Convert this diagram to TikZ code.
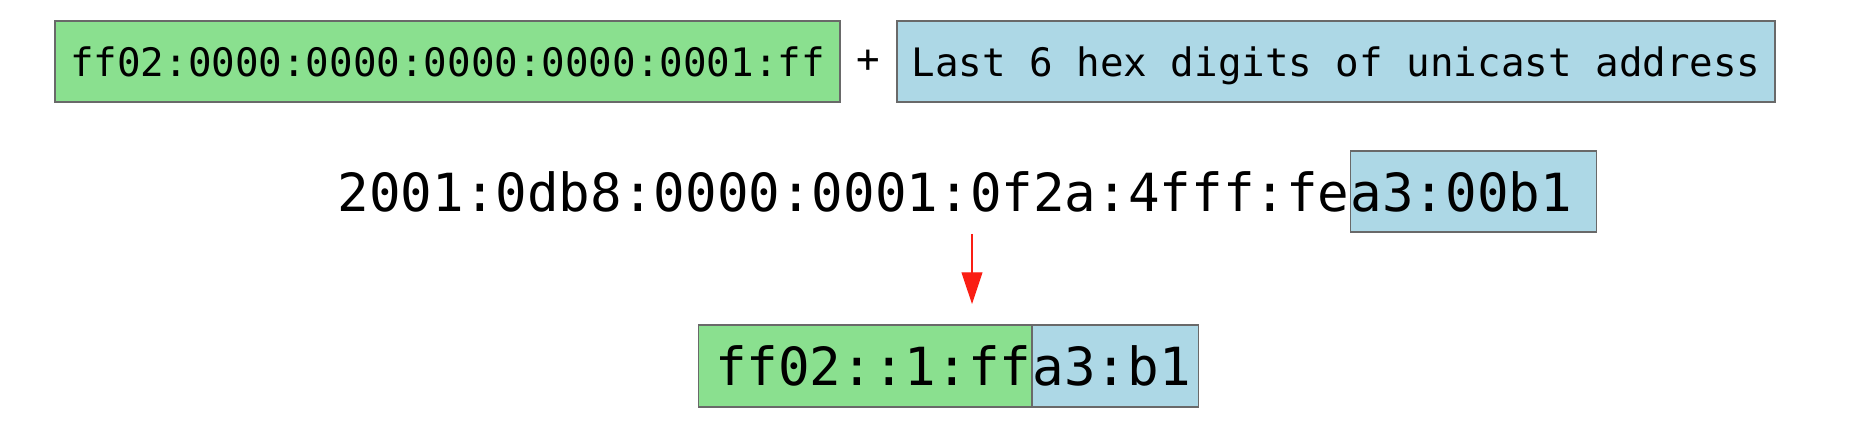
\documentclass[tikz,border=0pt]{standalone}
\usepackage{fontspec}
\setmonofont{DejaVu Sans Mono}
\usepackage{tikz}
\usetikzlibrary{arrows.meta}

\definecolor{prefixgreen}{RGB}{138,224,143}
\definecolor{suffixblue}{RGB}{173,216,230}
\definecolor{boxline}{RGB}{105,105,105}
\definecolor{arrowred}{RGB}{250,30,20}

\begin{document}
\begin{tikzpicture}[x=0.02cm,y=0.02cm]
\tikzstyle{every node}+=[inner sep=0pt]
\tikzstyle{small hex}=[font=\fontsize{22.3}{27}\selectfont\ttfamily]
\tikzstyle{big hex}=[font=\fontsize{29.9}{36}\selectfont\ttfamily]
\tikzstyle{hexbox}=[draw=boxline, line width=0.8pt, text depth=0pt]
\useasboundingbox (0,0) rectangle (1865,-448);
\node [hexbox, small hex, fill=prefixgreen, minimum width=15.7cm, minimum height=1.62cm] (prefix) at (447.5,-61.5) {ff02:0000:0000:0000:0000:0001:ff};
\node [small hex] (plus) at (868,-61.5) {+};
\node [hexbox, small hex, fill=suffixblue, minimum width=17.56cm, minimum height=1.62cm] (last) at (1336,-61.5) {Last 6 hex digits of unicast address};
\node [hexbox, big hex, fill=suffixblue, anchor=west, text width=4.92cm, align=left, minimum height=1.62cm] (tail) at (1350,-191.5) {a3:00b1};
\node [big hex, anchor=base east] (unicast) at (tail.base west) {2001:0db8:0000:0001:0f2a:4fff:fe};
\coordinate (arrtop) at (972,-234);
\coordinate (arrtip) at (972,-304);
\draw [arrowred, line width=0.6pt, -{Triangle[width=11.9pt,length=18pt]}] (arrtop) -- (arrtip);
\node [hexbox, big hex, fill=prefixgreen, anchor=east, text width=6.66cm, align=right, minimum height=1.64cm] (mcast) at (1032,-366) {ff02::1:ff};
\node [hexbox, big hex, fill=suffixblue, anchor=west, text width=3.32cm, align=left, minimum height=1.64cm] (mtail) at (mcast.east) {a3:b1};
\end{tikzpicture}
\end{document}
